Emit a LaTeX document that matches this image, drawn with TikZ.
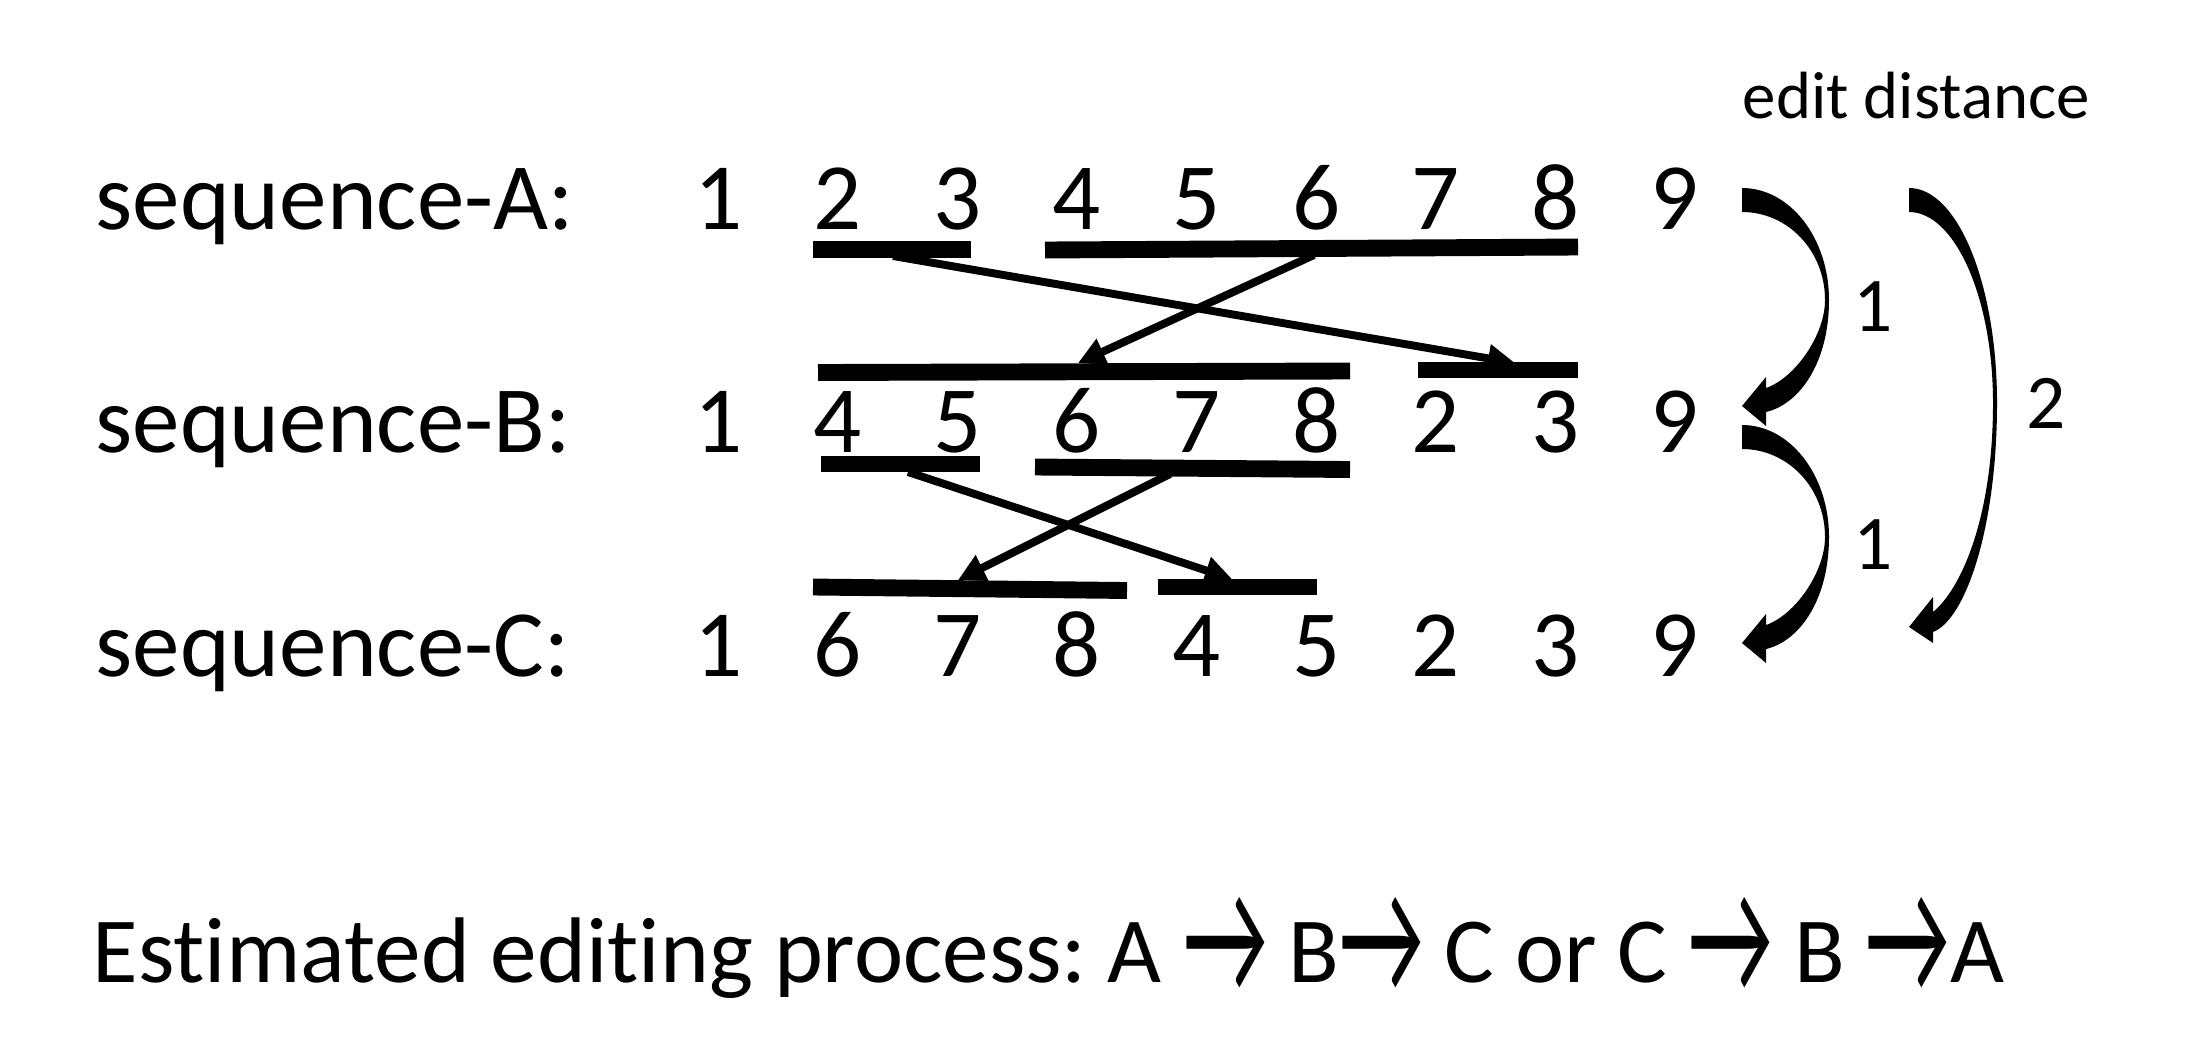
\documentclass[tikz,border=0pt]{standalone}
\usepackage{fontspec}
\setmainfont{Carlito}[Ligatures=NoCommon]
\usetikzlibrary{arrows.meta}
\newcommand{\bigarrow}{\raisebox{-0.12em}{\scalebox{1}[1.8]{→}}}

\begin{document}
\begin{tikzpicture}[x=0.01cm,y=-0.01cm,
num/.style={inner sep=0pt, anchor=base, font=\fontsize{27}{32}\selectfont},
seqlabel/.style={inner sep=0pt, anchor=base west, font=\fontsize{27}{32}\selectfont},
dist/.style={inner sep=0pt, font=\fontsize{22}{26}\selectfont},
bar/.style={line width=4.8pt},
move/.style={line width=2.25pt, -{Triangle[length=0.27cm,width=0.27cm]}},
curvedarrow/.style={fill=black},
]
\useasboundingbox (0,0) rectangle (2194,1048);

\node[seqlabel] (seqa) at (95,229) {sequence-A:};
\node[seqlabel] (seqb) at (95,452) {sequence-B:};
\node[seqlabel] (seqc) at (95,676) {sequence-C:};

\foreach \d [count=\i] in {1,...,9}
  \node[num] (a\i) at ({598.5+119.6*\i},229) {\d};
\foreach \d [count=\i] in {1,4,5,6,7,8,2,3,9}
  \node[num] (b\i) at ({598.5+119.6*\i},452) {\d};
\foreach \d [count=\i] in {1,6,7,8,4,5,2,3,9}
  \node[num] (c\i) at ({598.5+119.6*\i},676) {\d};

% blocks that move
\draw[bar] (813,249.5) -- (971,249.5);
\draw[bar] (1045,250) -- (1578,247);
\draw[bar] (818,372.5) -- (1350,371);
\draw[bar] (1418,370) -- (1578,370);
\draw[bar] (821,464) -- (980,464);
\draw[bar] (1035,467) -- (1350,469.5);
\draw[bar] (813,587) -- (1127,590.5);
\draw[bar] (1158,587) -- (1317,587);

\coordinate (a23) at (893,256);
\coordinate (a48) at (1314,255);
\coordinate (b23) at (1515,363);
\coordinate (b48) at (1078,363);
\coordinate (b45) at (908,472);
\coordinate (b68) at (1170,474);
\coordinate (c45) at (1232,579);
\coordinate (c68) at (958,580);

\draw[move] (a23) -- (b23);
\draw[move] (a48) -- (b48);
\draw[move] (b45) -- (c45);
\draw[move] (b68) -- (c68);

% edit distance
\node[inner sep=0pt, anchor=base west, font=\fontsize{19}{23}\selectfont] (ed) at (1742,118) {edit distance};

\foreach \s in {0,237}
  \fill[curvedarrow, shift={(0,\s)}] (1742,188) .. controls (1790,188) and (1829,238) .. (1829,300)
    .. controls (1829,362) and (1800,404) .. (1766,412)
    -- (1766,426) -- (1742,406) -- (1766,377) -- (1766,388)
    .. controls (1795,378) and (1825,335) .. (1825,300)
    .. controls (1825,251) and (1788,212) .. (1742,212) -- cycle;
\fill[curvedarrow] (1909,188) .. controls (1958,188) and (1997,285) .. (1997,403)
  .. controls (1997,529) and (1965,620) .. (1933,632)
  -- (1933,643) -- (1909,627) -- (1933,597) -- (1933,612)
  .. controls (1960,590) and (1993,520) .. (1993,403)
  .. controls (1993,298) and (1955,212) .. (1909,212) -- cycle;

\node[dist] (d1) at (1873,307) {1};
\node[dist] (d2) at (1873,545) {1};
\node[dist] (d3) at (2046,403) {2};

\node[inner sep=0pt, anchor=base west, font=\fontsize{26.5}{31}\selectfont\frenchspacing] (est) at (92,982) {Estimated editing process: A \bigarrow{} B\bigarrow{} C or C \bigarrow{} B \bigarrow{}A};
\end{tikzpicture}
\end{document}
